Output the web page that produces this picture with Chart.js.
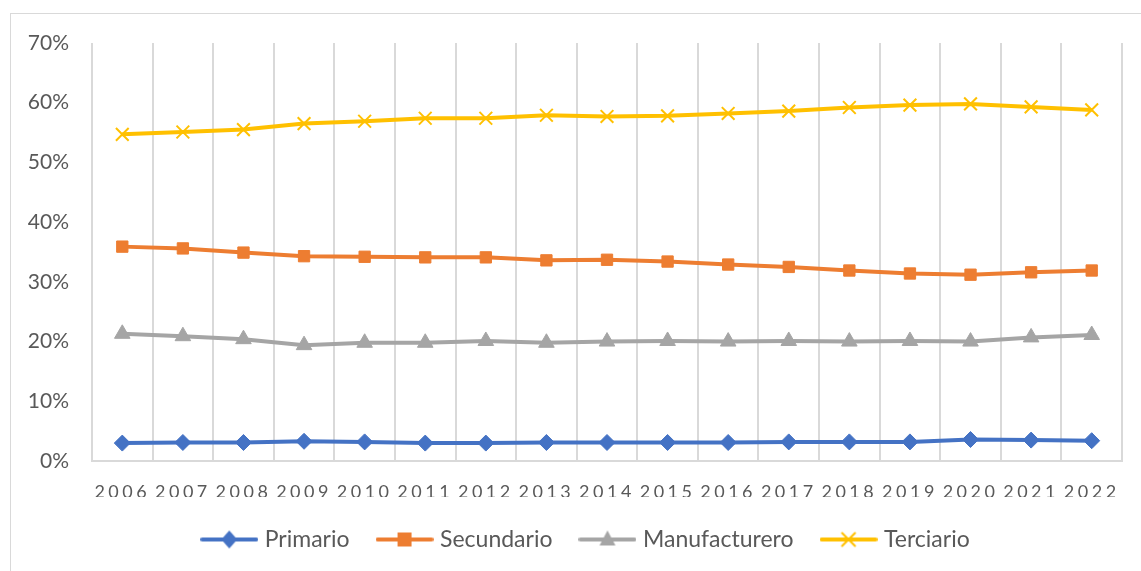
<!DOCTYPE html>
<html>
<head>
<meta charset="utf-8">
<script src="https://cdn.jsdelivr.net/npm/chart.js@4.4.1/dist/chart.umd.min.js"></script>
<style>
  html, body { margin: 0; padding: 0; background: #fff; }
  #wrap { position: relative; width: 1141px; height: 571px; overflow: hidden; }
  #frame { position: absolute; left: 10px; top: 13px; width: 1200px; height: 600px; border: 1px solid #d9d9d9; box-sizing: border-box; }
  #cv { position: absolute; left: 0; top: 0; }
</style>
</head>
<body>
<div id="wrap">
  <div id="frame"></div>
  <canvas id="cv" width="1141" height="561"></canvas>
</div>
<script>
var years = ['2006', '2007', '2008', '2009', '2010', '2011', '2012', '2013', '2014',
             '2015', '2016', '2017', '2018', '2019', '2020', '2021', '2022'];

var primario      = [3.0, 3.1, 3.1, 3.3, 3.2, 3.0, 3.0, 3.1, 3.1, 3.1, 3.1, 3.2, 3.2, 3.2, 3.6, 3.5, 3.4];
var secundario    = [35.9, 35.6, 34.9, 34.3, 34.2, 34.1, 34.1, 33.6, 33.7, 33.4, 32.9, 32.5, 31.9, 31.4, 31.2, 31.6, 31.9];
var manufacturero = [21.3, 20.9, 20.4, 19.4, 19.8, 19.8, 20.1, 19.8, 20.0, 20.1, 20.0, 20.1, 20.0, 20.1, 20.0, 20.7, 21.1];
var terciario     = [54.7, 55.1, 55.5, 56.5, 56.9, 57.4, 57.4, 57.9, 57.7, 57.8, 58.2, 58.6, 59.2, 59.6, 59.8, 59.3, 58.8];

var yTicks = [0, 10, 20, 30, 40, 50, 60, 70];

var colors = {
    primario: '#4472C4',
    secundario: '#ED7D31',
    manufacturero: '#A5A5A5',
    terciario: '#FFC000'
};

// small line+marker icon for the legend
function legendIcon(color, style) {
    var c = document.createElement('canvas');
    c.width = 58;
    c.height = 22;
    var g = c.getContext('2d');
    g.strokeStyle = color;
    g.fillStyle = color;
    g.lineWidth = 4;
    g.lineCap = 'round';
    g.beginPath();
    g.moveTo(2, 11);
    g.lineTo(56, 11);
    g.stroke();
    var cx = 29, cy = 11;
    g.beginPath();
    if (style === 'diamond') {
        g.moveTo(cx, cy - 9); g.lineTo(cx + 8, cy); g.lineTo(cx, cy + 9); g.lineTo(cx - 8, cy);
        g.closePath(); g.fill();
    } else if (style === 'square') {
        g.fillRect(cx - 7, cy - 7, 14, 14);
    } else if (style === 'triangle') {
        g.moveTo(cx, cy - 9); g.lineTo(cx + 8, cy + 6); g.lineTo(cx - 8, cy + 6);
        g.closePath(); g.fill();
    } else {
        g.lineWidth = 2;
        g.lineCap = 'butt';
        g.moveTo(cx - 7, cy - 7); g.lineTo(cx + 7, cy + 7);
        g.moveTo(cx + 7, cy - 7); g.lineTo(cx - 7, cy + 7);
        g.stroke();
    }
    return c;
}

var icons = [
    legendIcon(colors.primario, 'diamond'),
    legendIcon(colors.secundario, 'square'),
    legendIcon(colors.manufacturero, 'triangle'),
    legendIcon(colors.terciario, 'cross')
];

// letter spacing on the year labels only, and nudge legend right a bit
var tweaks = {
    id: 'tweaks',
    afterLayout: function (chart) {
        var s = chart.scales.x;
        if (s && !s._spaced) {
            var orig = s.drawLabels.bind(s);
            s.drawLabels = function (area) {
                chart.ctx.save();
                chart.ctx.letterSpacing = '3.5px';
                orig(area);
                chart.ctx.restore();
            };
            s._spaced = true;
        }
        if (chart.legend) {
            chart.legend.left = 53;
        }
    }
};

function lineSet(label, data, color, style, radius, bw) {
    return {
        label: label,
        data: data,
        borderColor: color,
        backgroundColor: color,
        borderWidth: 4,
        pointStyle: style,
        pointRadius: radius,
        pointHoverRadius: radius,
        pointBorderWidth: bw,
        pointBorderColor: color,
        pointBackgroundColor: color,
        tension: 0
    };
}

var ctx = document.getElementById('cv').getContext('2d');
var chart = new Chart(ctx, {
    type: 'line',
    data: {
        labels: years,
        datasets: [
            lineSet('Primario', primario, colors.primario, 'rectRot', 8, 1),
            lineSet('Secundario', secundario, colors.secundario, 'rect', 8, 1),
            lineSet('Manufacturero', manufacturero, colors.manufacturero, 'triangle', 9, 1),
            lineSet('Terciario', terciario, colors.terciario, 'crossRot', 9, 2)
        ]
    },
    options: {
        responsive: false,
        animation: false,
        devicePixelRatio: 1,
        layout: {
            padding: { left: 0, right: 19, top: 43, bottom: 0 }
        },
        scales: {
            x: {
                offset: true,
                afterFit: function (scale) { scale.height = 36; },
                grid: {
                    display: true,
                    offset: true,
                    color: '#d9d9d9',
                    lineWidth: 2,
                    drawTicks: false
                },
                border: { display: true, color: '#d9d9d9', width: 2 },
                ticks: {
                    color: '#595959',
                    font: { family: 'Lato', size: 18 },
                    padding: 20,
                    maxRotation: 0,
                    autoSkip: false
                }
            },
            y: {
                min: 0,
                max: 70,
                afterFit: function (scale) { scale.width = 92; },
                afterBuildTicks: function (scale) {
                    scale.ticks = yTicks.map(function (v) { return { value: v }; });
                },
                grid: { display: false, drawTicks: false },
                border: { display: false },
                ticks: {
                    color: '#595959',
                    font: { family: 'Lato', size: 21 },
                    padding: 23,
                    callback: function (v) { return v + '%'; }
                }
            }
        },
        plugins: {
            tooltip: { enabled: false },
            legend: {
                position: 'bottom',
                labels: {
                    color: '#595959',
                    font: { family: 'Lato', size: 23 },
                    usePointStyle: true,
                    pointStyleWidth: 48,
                    padding: 31,
                    generateLabels: function (chart) {
                        var items = Chart.defaults.plugins.legend.labels.generateLabels(chart);
                        items.forEach(function (it, i) { it.pointStyle = icons[i]; });
                        return items;
                    }
                }
            }
        }
    },
    plugins: [tweaks]
});
</script>
</body>
</html>
